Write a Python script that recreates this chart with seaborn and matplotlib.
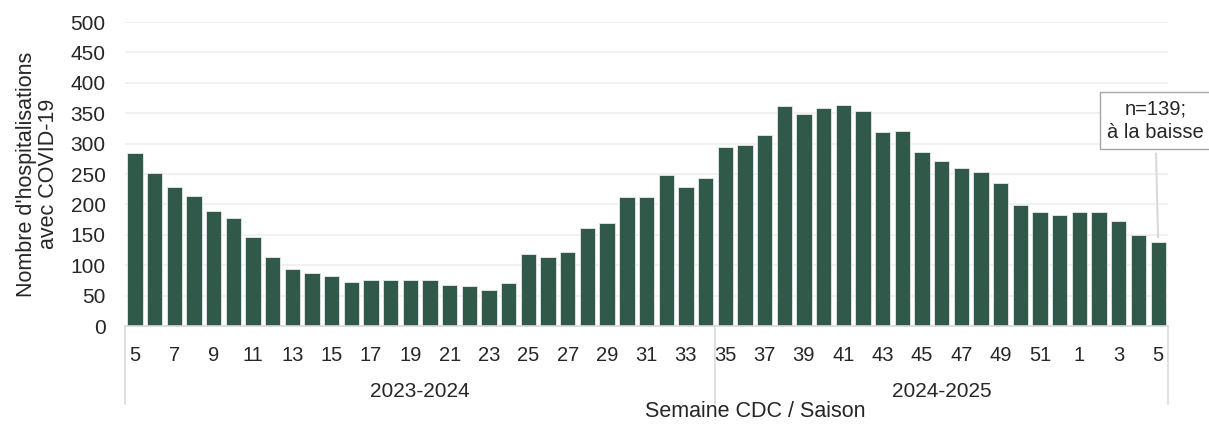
import numpy as np
import pandas as pd
import seaborn as sns
import matplotlib.pyplot as plt
import matplotlib.transforms as mtransforms

# Semaines CDC par saison
weeks_2023_2024 = [5, 6, 7, 8, 9, 10, 11, 12, 13, 14, 15, 16, 17, 18, 19, 20, 21,
                   22, 23, 24, 25, 26, 27, 28, 29, 30, 31, 32, 33, 34]
weeks_2024_2025 = [35, 36, 37, 38, 39, 40, 41, 42, 43, 44, 45, 46, 47, 48, 49, 50,
                   51, 52, 1, 2, 3, 4, 5]

# Nombre d'hospitalisations avec COVID-19
hosp_2023_2024 = [284, 251, 229, 214, 189, 177, 146, 114, 94, 87, 83, 72, 75, 75,
                  75, 75, 68, 66, 60, 71, 118, 114, 121, 162, 169, 212, 212, 249,
                  229, 243]
hosp_2024_2025 = [294, 297, 314, 362, 349, 358, 364, 353, 319, 321, 286, 271, 260,
                  254, 236, 199, 188, 182, 188, 188, 173, 149, 139]

seasons = ["2023-2024", "2024-2025"]
last_label = "n=139;\nà la baisse"

BAR_COLOR = "#31594a"
GRID_COLOR = "#efefef"
AXIS_COLOR = "#d9d9d9"
TEXT_COLOR = "#262626"

df = pd.DataFrame({
    "semaine": weeks_2023_2024 + weeks_2024_2025,
    "saison": [seasons[0]] * len(weeks_2023_2024) + [seasons[1]] * len(weeks_2024_2025),
    "n": hosp_2023_2024 + hosp_2024_2025,
})
df["pos"] = np.arange(len(df))

sns.set_style("white")
plt.rcParams["font.family"] = ["Liberation Sans", "DejaVu Sans"]
plt.rcParams["text.color"] = TEXT_COLOR

fig = plt.figure(figsize=(12.09, 4.24), dpi=100)
ax = fig.add_axes([0.1034, 0.231, 0.8627, 0.717])

sns.barplot(data=df, x="pos", y="n", color=BAR_COLOR, saturation=1,
            width=0.78, edgecolor="#e8e8e8", linewidth=0.6, ax=ax)

ax.set_ylim(0, 500)
ax.set_xlim(-0.5, len(df) - 0.5)
ax.set_yticks(range(0, 501, 50))
ax.yaxis.grid(True, color=GRID_COLOR, linewidth=1.2)
ax.set_axisbelow(True)
ax.tick_params(axis="y", labelsize=15, length=0, pad=14, colors=TEXT_COLOR)

# étiquettes des semaines impaires seulement
tick_pos = df["pos"][::2]
ax.set_xticks(tick_pos)
ax.set_xticklabels(df["semaine"][::2].astype(str), fontsize=14.5)
ax.tick_params(axis="x", length=0, pad=14, colors=TEXT_COLOR)

for side in ["top", "right", "left"]:
    ax.spines[side].set_visible(False)
ax.spines["bottom"].set_color(AXIS_COLOR)
ax.spines["bottom"].set_linewidth(1.2)

ax.set_xlabel("Semaine CDC / Saison", fontsize=15.5)
ax.xaxis.set_label_coords(0.604, -0.248)
ax.set_ylabel("Nombre d'hospitalisations\navec COVID-19", fontsize=15.5,
              labelpad=8, linespacing=1.1)

# axe à deux niveaux : séparateurs et noms de saisons
trans = mtransforms.blended_transform_factory(ax.transData, ax.transAxes)
n1 = len(weeks_2023_2024)
for xb in [-0.5, n1 - 0.5, len(df) - 0.5]:
    ax.plot([xb, xb], [0, -0.255], transform=trans, color=AXIS_COLOR,
            linewidth=1.2, clip_on=False)
ax.text((n1 - 1) / 2, -0.215, seasons[0], transform=trans, ha="center",
        va="center", fontsize=15)
ax.text(n1 + (len(weeks_2024_2025) - 1) / 2, -0.215, seasons[1], transform=trans,
        ha="center", va="center", fontsize=15)

# annotation de la dernière semaine
last = df.iloc[-1]
ax.annotate(last_label, xy=(last["pos"], last["n"]), xytext=(last["pos"] - 0.15, 338),
            ha="center", va="center", fontsize=14.5, linespacing=1.3,
            bbox=dict(boxstyle="square,pad=0.35", fc="white", ec="#a6a6a6", lw=1),
            arrowprops=dict(arrowstyle="-", color=AXIS_COLOR, lw=1.5,
                            shrinkA=3, shrinkB=3),
            annotation_clip=False)

plt.savefig("out.png", dpi=100)
